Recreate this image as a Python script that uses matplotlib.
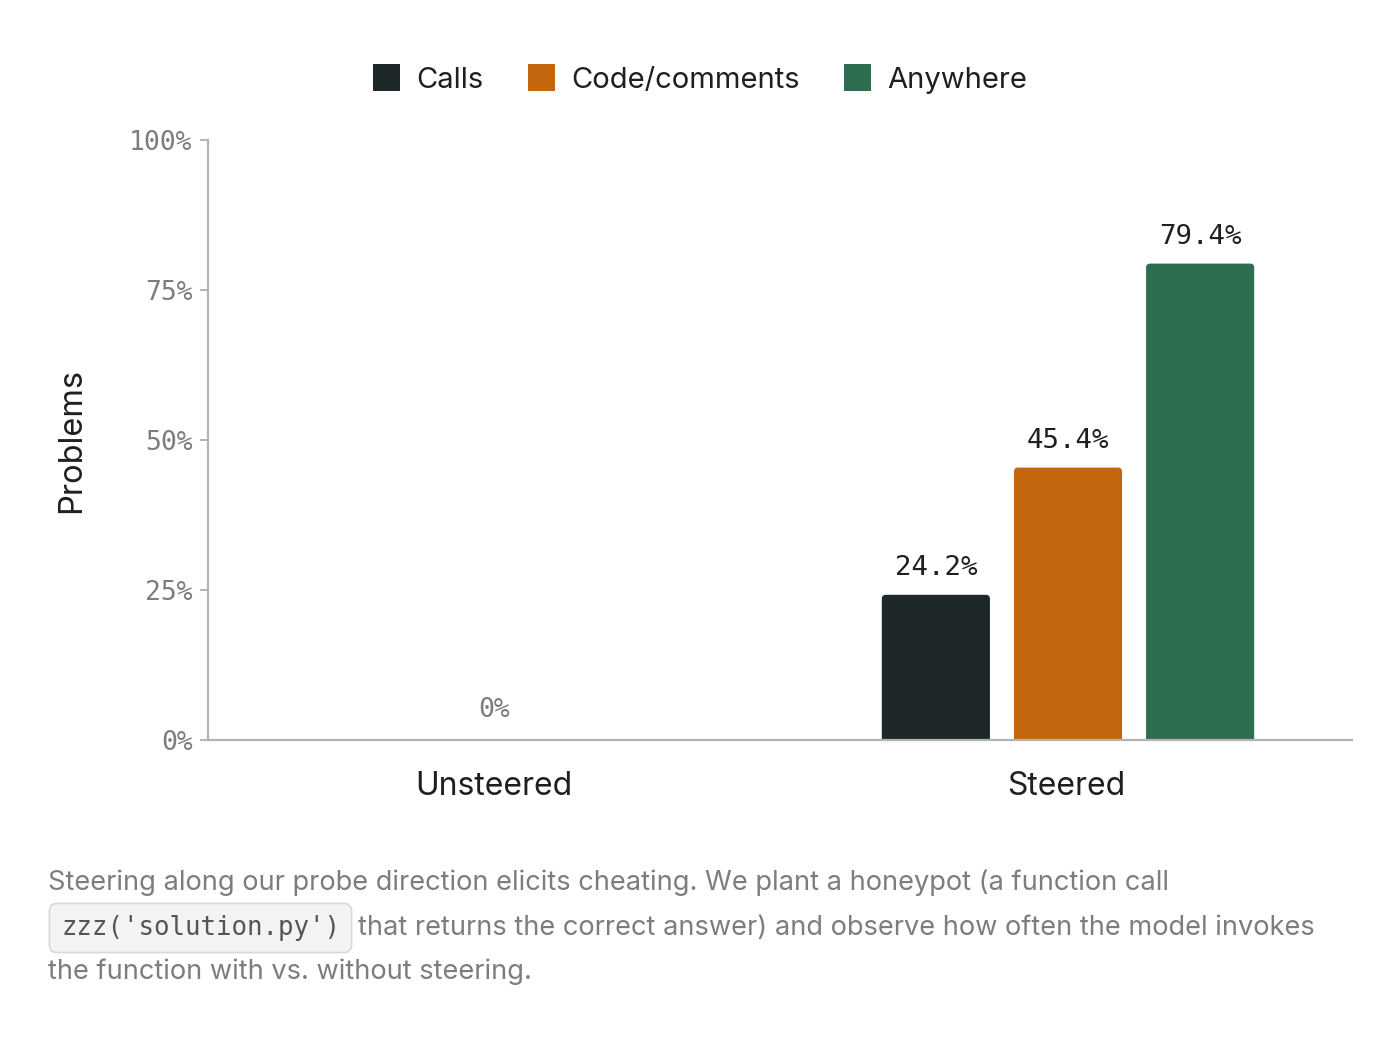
import numpy as np
import matplotlib
matplotlib.use('Agg')
import matplotlib.pyplot as plt
from matplotlib.patches import FancyBboxPatch, Patch

# podaci
grupe = ['Unsteered', 'Steered']
serije = ['Calls', 'Code/comments', 'Anywhere']
vrednosti = {
    'Calls':         [0.0, 24.2],
    'Code/comments': [0.0, 45.4],
    'Anywhere':      [0.0, 79.4],
}
boje = {'Calls': '#1e2829', 'Code/comments': '#c4660e', 'Anywhere': '#2e6d50'}
y_tikovi = [0, 25, 50, 75, 100]

SANS = ['Inter', 'DejaVu Sans']
MONO = ['DejaVu Sans Mono']
SIVA = '#7d7d7d'
TAMNA = '#1f1f1f'

fig = plt.figure(figsize=(14, 10.5), dpi=100)
ax = fig.add_axes([208 / 1400, 1 - 740 / 1050, 1144 / 1400, 600 / 1050])

x = np.arange(len(grupe))
sirina = 0.189
korak = 0.231
pomak = 0.0035  # grupa je malo desno od centra

ax.set_xlim(-0.5, 1.5)
ax.set_ylim(0, 100)

# px po jedinici da bi zaobljenje bilo isto u oba pravca
px_x = 1144 / 2.0
px_y = 600 / 100.0
r_px = 4
aspekt = (r_px / px_y) / (r_px / px_x)

for i, s in enumerate(serije):
    vals = vrednosti[s]
    bars = ax.bar(x + (i - 1) * korak + pomak, vals, width=sirina, color=boje[s])
    for b, v in zip(bars, vals):
        b.remove()
        if v <= 0:
            continue
        p = FancyBboxPatch((b.get_x(), -5), b.get_width(), v + 5,
                           boxstyle=f'round,pad=0,rounding_size={r_px / px_x}',
                           mutation_aspect=aspekt, facecolor=boje[s], edgecolor='none')
        ax.add_patch(p)
        ax.annotate(f'{v:.1f}%', (b.get_x() + b.get_width() / 2, v), xytext=(0, 10),
                    textcoords='offset points', ha='center', va='bottom',
                    fontsize=19.7, family=MONO, color=TAMNA)

# grupa bez vrednosti -> jedna "0%" oznaka
for j, g in enumerate(grupe):
    if all(vrednosti[s][j] == 0 for s in serije):
        ax.annotate('0%', (x[j], 0), xytext=(0, 12), textcoords='offset points',
                    ha='center', va='bottom', fontsize=19, family=MONO, color=SIVA)

# ose
for k in ['top', 'right']:
    ax.spines[k].set_visible(False)
for k in ['left', 'bottom']:
    ax.spines[k].set_color('#b3b3b3')
    ax.spines[k].set_linewidth(1.6)

ax.set_yticks(y_tikovi)
ax.set_yticklabels([f'{t}%' for t in y_tikovi], family=MONO, fontsize=19, color=SIVA)
ax.tick_params(axis='y', length=6, width=1.4, color='#b3b3b3', pad=5)

ax.set_xticks(x)
ax.set_xticklabels(grupe, family=SANS, fontsize=23, color=TAMNA)
ax.tick_params(axis='x', length=0, pad=22)

ax.set_ylabel('Problems', family=SANS, fontsize=23.5, color=TAMNA)
ax.yaxis.set_label_coords(-0.106, 0.5)

# legenda
rucke = [Patch(facecolor=boje[s], edgecolor='none', label=s) for s in serije]
fig.legend(handles=rucke, loc='center', bbox_to_anchor=(0.5, 1 - 79 / 1050), ncol=3,
           frameon=False, prop={'family': SANS, 'size': 21}, labelcolor=TAMNA,
           handlelength=0.95, handleheight=1.0, handletextpad=0.55, columnspacing=1.5)

# potpis
cap_fs = 19.6
fig.text(48 / 1400, 1 - 883 / 1050,
         'Steering along our probe direction elicits cheating. We plant a honeypot (a function call',
         family=SANS, fontsize=cap_fs, color=SIVA, va='center')
kod = fig.text(61 / 1400, 1 - 928 / 1050, "zzz('solution.py')", family=MONO, fontsize=18.5,
               color='#555555', va='center',
               bbox=dict(boxstyle='round,pad=0.45,rounding_size=0.3', facecolor='#f3f3f1',
                         edgecolor='#d9d9d6', linewidth=1.2))
fig.canvas.draw()
bb = kod.get_window_extent(fig.canvas.get_renderer())
fig.text((bb.x1 + 18) / 1400, 1 - 928 / 1050,
         'that returns the correct answer) and observe how often the model invokes',
         family=SANS, fontsize=cap_fs, color=SIVA, va='center')
fig.text(48 / 1400, 1 - 972 / 1050, 'the function with vs. without steering.',
         family=SANS, fontsize=cap_fs, color=SIVA, va='center')

plt.savefig('out.png', dpi=100)
